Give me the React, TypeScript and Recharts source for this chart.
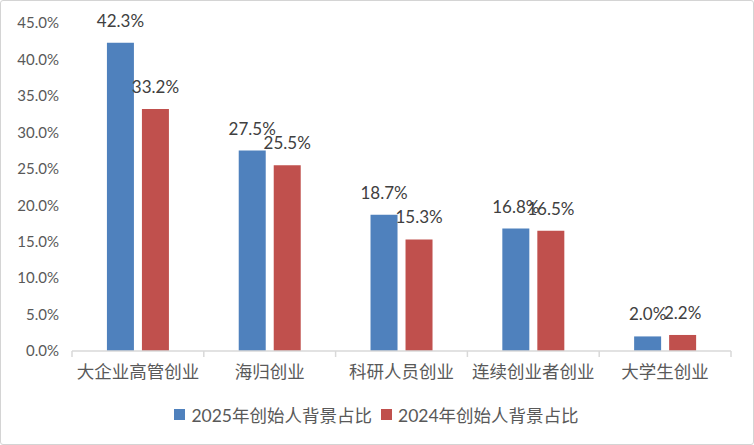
import React from 'react';
import { BarChart, Bar, XAxis, YAxis, Legend, LabelList } from 'recharts';

const categories = ['大企业高管创业', '海归创业', '科研人员创业', '连续创业者创业', '大学生创业'];
const series2025 = [42.3, 27.5, 18.7, 16.8, 2.0];
const series2024 = [33.2, 25.5, 15.3, 16.5, 2.2];
const yTicks = [0, 5, 10, 15, 20, 25, 30, 35, 40, 45];
const name2025 = '2025年创始人背景占比';
const name2024 = '2024年创始人背景占比';

const data = categories.map((c, i) => ({ name: c, v2025: series2025[i], v2024: series2024[i] }));

const FONT = "Lato, 'Noto Sans CJK SC', sans-serif";
const BLUE = '#4F81BD';
const RED = '#C0504D';
const AXIS = '#d9d9d9';

const XTick = (props: any) => {
  const { x, y, payload, index, visibleTicksCount } = props;
  const half = payload && payload.offset ? payload.offset : 0;
  const top = y - 8;
  return (
    <g>
      <line x1={x - half} x2={x - half} y1={top} y2={top + 6} stroke={AXIS} strokeWidth={1.5} />
      {index === visibleTicksCount - 1 && (
        <line x1={x + half} x2={x + half} y1={top} y2={top + 6} stroke={AXIS} strokeWidth={1.5} />
      )}
      <text x={x} y={y + 19} textAnchor="middle" fill="#595959" fontSize={17.5} fontFamily={FONT}>
        {payload.value}
      </text>
    </g>
  );
};

const LegendContent = () => (
  <div style={{ display: 'flex', justifyContent: 'center', alignItems: 'center', fontFamily: FONT, fontSize: 17.5, color: '#595959', height: 40 }}>
    {[{ n: name2025, c: BLUE }, { n: name2024, c: RED }].map((it, i) => (
      <div key={i} style={{ display: 'flex', alignItems: 'center', marginLeft: i ? 9 : 0 }}>
        <span style={{ display: 'inline-block', width: 11, height: 11, background: it.c, marginRight: 6 }} />
        <span>{it.n}</span>
      </div>
    ))}
  </div>
);

export default function App() {
  return (
    <div style={{ position: 'absolute', left: 0, top: 0, width: 754, height: 445, boxSizing: 'border-box', border: '1.5px solid #d4d4d4', borderRadius: 3, background: '#fff' }}>
      <div style={{ position: 'absolute', left: -1.5, top: -1.5 }}>
        <BarChart width={754} height={445} data={data} margin={{ top: 23, right: 23, bottom: 10, left: 0 }} barCategoryGap="26.5%" barGap={8}>
          <XAxis dataKey="name" axisLine={{ stroke: AXIS, strokeWidth: 1.5 }} tickLine={false} tickSize={6} tickMargin={2} height={44} tick={<XTick />} interval={0} />
          <YAxis domain={[0, 45]} ticks={yTicks} axisLine={false} tickLine={false} width={72} tickMargin={7} tickFormatter={(v: number) => v.toFixed(1) + '%'} tick={{ fill: '#595959', fontSize: 15, fontFamily: FONT }} />
          <Legend verticalAlign="bottom" height={40} content={<LegendContent />} wrapperStyle={{ left: 0, width: 754 }} />
          <Bar dataKey="v2025" name={name2025} fill={BLUE} isAnimationActive={false}>
            <LabelList dataKey="v2025" position="top" offset={16} formatter={(v: number) => v.toFixed(1) + '%'} style={{ fill: '#404040', fontSize: 17, fontFamily: FONT }} />
          </Bar>
          <Bar dataKey="v2024" name={name2024} fill={RED} isAnimationActive={false}>
            <LabelList dataKey="v2024" position="top" offset={16} formatter={(v: number) => v.toFixed(1) + '%'} style={{ fill: '#404040', fontSize: 17, fontFamily: FONT }} />
          </Bar>
        </BarChart>
      </div>
    </div>
  );
}
